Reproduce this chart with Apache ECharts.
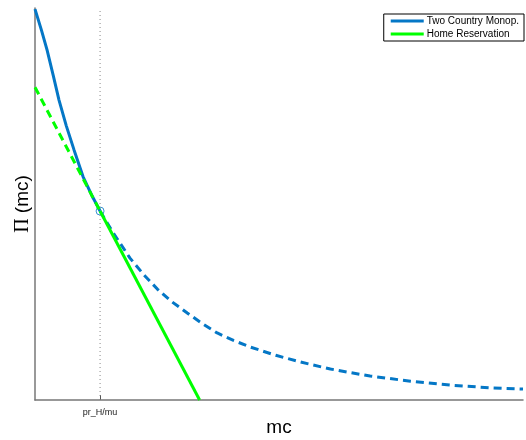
<!DOCTYPE html>
<html><head><meta charset="utf-8">
<script src="https://cdn.jsdelivr.net/npm/echarts@6/dist/echarts.min.js"></script>
<style>html,body{margin:0;padding:0;background:#fff}#c{width:526px;height:440px}</style>
</head><body><div id="c"></div>
<script>
// Data (x in units of pr_H/mu, y arbitrary profit units)
const blueSolid = [[0,99.7],[0.1,94.3],[0.185,89.3],[0.28,82.8],[0.369,76.5],[0.48,70.0],[0.6,63.8],[0.738,57.0],[0.87,52.3],[1.0,48.2]];
const blueDashed = [[1.0,48.2],[1.2,42.7],[1.46,36.2],[1.67,32.0],[1.88,28.3],[2.1,25.1],[2.34,22.2],[2.57,19.5],[2.8,17.1],[3.05,15.2],[3.31,13.5],[3.7,11.4],[4.08,9.7],[4.54,7.9],[5.15,6.1],[5.77,4.8],[6.38,3.8],[7.0,3.1],[7.5,2.8]];
const greenDashed = [[0,79.8],[1.0,48.2]];
const greenSolid = [[1.0,48.2],[2.53,0]];
const refLine = [[1,0],[1,100]];
const tangentPoint = [[1,48.2]];
const xTickValues = [1];
const xTickLabels = ['pr_H/mu'];

const BLUE = '#0477c6', GREEN = '#00FF00';
const chart = echarts.init(document.getElementById('c'));
chart.setOption({
  animation: false,
  grid: {left: 35, right: 3, top: 8, bottom: 40, outerBoundsMode: 'none', containLabel: false},
  legend: {
    orient: 'vertical', right: 2, top: 14, align: 'left',
    data: ['Two Country Monop.', 'Home Reservation'],
    icon: 'rect', itemWidth: 33, itemHeight: 3, itemGap: 3,
    padding: [2, 5, 2, 7],
    borderColor: '#000', borderWidth: 1, backgroundColor: '#fff', borderRadius: 0,
    textStyle: {fontFamily: 'Liberation Sans, Arial', fontSize: 10, color: '#000', padding: [0,0,0,-2]},
    selectedMode: false
  },
  xAxis: {
    type: 'value', min: 0, max: 7.5, interval: 1,
    name: 'mc', nameLocation: 'middle', nameGap: 18, nameMoveOverlap: false,
    nameTextStyle: {fontFamily: 'Liberation Sans, Arial', fontSize: 19, color: '#000'},
    axisLine: {lineStyle: {color: '#777', width: 1.5}},
    axisTick: {inside: true, length: 5, customValues: xTickValues, lineStyle: {color: '#555'}},
    axisLabel: {customValues: xTickValues, formatter: v => xTickLabels[xTickValues.indexOf(v)] || '',
      fontFamily: 'Liberation Sans, Arial', fontSize: 9, color: '#222', margin: 8},
    splitLine: {show: false}
  },
  yAxis: {
    type: 'value', min: 0, max: 100,
    name: '{p|Π} (mc)', nameLocation: 'middle', nameGap: 2, nameMoveOverlap: false,
    nameTextStyle: {fontFamily: 'Liberation Sans, Arial', fontSize: 19, color: '#000',
      rich: {p: {fontFamily: 'Liberation Serif, Times New Roman', fontSize: 20, color: '#000'}}},
    axisLine: {show: true, lineStyle: {color: '#777', width: 1.5}},
    axisTick: {show: false}, axisLabel: {show: false}, splitLine: {show: false}
  },
  series: [
    {name: 'ref', type: 'line', data: refLine, symbol: 'none', silent: true,
     lineStyle: {color: '#888', width: 1, type: [1, 3]}},
    {name: 'Two Country Monop.', type: 'line', data: blueSolid, symbol: 'none',
     itemStyle: {color: BLUE}, lineStyle: {color: BLUE, width: 3}},
    {name: 'blueDashed', type: 'line', data: blueDashed, symbol: 'none',
     lineStyle: {color: BLUE, width: 3, type: [8, 5]}},
    {name: 'greenDashed', type: 'line', data: greenDashed, symbol: 'none',
     lineStyle: {color: GREEN, width: 3, type: [8, 5]}},
    {name: 'Home Reservation', type: 'line', data: greenSolid, symbol: 'none',
     itemStyle: {color: GREEN}, lineStyle: {color: GREEN, width: 3}},
    {name: 'pt', type: 'scatter', data: tangentPoint, symbol: 'circle', symbolSize: 8,
     itemStyle: {color: 'rgba(0,0,0,0)', borderColor: BLUE, borderWidth: 1}}
  ]
});
</script></body></html>
